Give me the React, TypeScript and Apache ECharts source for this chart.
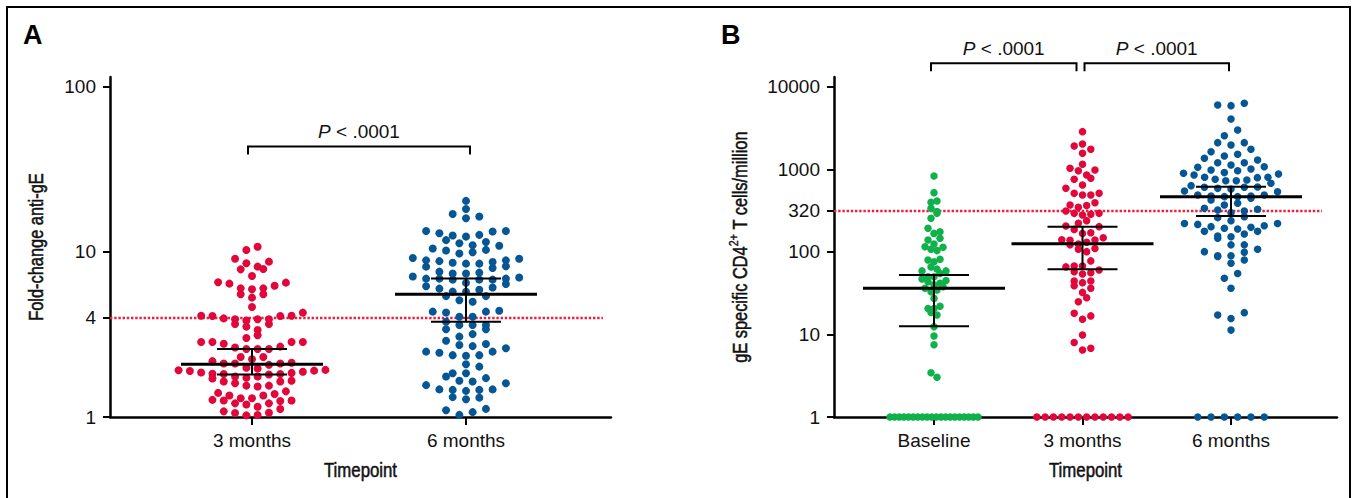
import React, { useEffect, useRef } from "react";
import * as echarts from "echarts";

// ---------- data ----------
const categoriesA = ["3 months", "6 months"];
const categoriesB = ["Baseline", "3 months", "6 months"];
const yTickLabelsA = [1, 4, 10, 100];
const yTickLabelsB = [1, 10, 100, 320, 1000, 10000];
const thresholdA = 4;
const thresholdB = 320;
const pLabel = "< .0001";

const foldChange3m = [
  10.77, 10.28, 9.11, 8.74, 8.54, 8.15, 7.89, 7.85, 7.15, 6.55, 6.52, 6.43, 6.25, 6.02, 6.02, 5.94, 5.54, 5.54, 5.29, 4.64,
  4.29, 4.11, 4.11, 4.09, 4.09, 3.96, 3.91, 3.91, 3.91, 3.84,
  3.66, 3.66, 3.53, 3.37, 3.13, 3.01, 2.85, 2.85, 2.85, 2.85, 2.78,
  2.67, 2.64, 2.58, 2.58, 2.58, 2.31, 2.31, 2.24, 2.18,
  2.13, 2.11, 2.11, 2.11, 2.07, 1.99, 1.97, 1.93, 1.92, 1.91, 1.9, 1.88, 1.86, 1.85, 1.83, 1.82, 1.82, 1.81, 1.76,
  1.76, 1.73, 1.71, 1.66, 1.64, 1.64, 1.6, 1.55, 1.55, 1.53,
  1.43, 1.4, 1.38, 1.35, 1.35, 1.3, 1.3, 1.27, 1.26,
  1.26, 1.25, 1.21, 1.21, 1.19, 1.155, 1.118, 1.082, 1.062, 1.057, 1.028, 1.023,
];

const foldChange6m = [
  20.4, 18.2, 17.0, 16.4, 16.0,
  13.4, 13.4, 13.3, 13.0, 12.7, 12.6, 12.4,
  11.8, 11.5, 11.3, 11.0, 10.9,
  10.5, 10.3, 10.2, 9.96, 9.8,
  9.2, 9.1, 8.9, 8.9, 8.8, 8.7, 8.6, 8.5, 8.5, 8.2, 8.15, 8.0,
  7.6, 7.5, 7.4, 7.4, 7.1, 7.0, 6.9, 6.9, 6.9, 6.8, 6.8, 6.8, 6.5, 6.4, 6.2, 6.1,
  6.0, 5.9, 5.75, 5.75, 5.4, 5.4, 5.1, 5.0,
  4.4, 4.35, 4.35, 4.3, 4.05, 4.05, 3.78,
  3.61, 3.61, 3.61, 3.4, 3.4, 3.18,
  3.07, 2.9, 2.77, 2.73, 2.69, 2.61, 2.49, 2.49, 2.45, 2.37, 2.37, 2.35,
  2.09, 2.02, 1.84, 1.84, 1.76, 1.72, 1.66, 1.64, 1.6, 1.56, 1.47, 1.47, 1.46, 1.46, 1.44, 1.32, 1.31, 1.28,
  1.12, 1.1, 1.07, 1.03,
];

const cellsBaseline = [
  834, 524, 415, 400, 338, 310, 294, 256, 194, 176, 168, 147, 140, 125, 116, 114, 108, 104,
  81.5, 80, 76, 66, 62, 59, 59, 55, 50, 50, 47, 45, 43.7, 41.7, 40, 38, 36.3, 34.6, 33,
  27.4, 22, 20.7, 20.7, 18.5, 17.2, 12.4, 9.6, 7.5, 3.44, 3.03,
  1, 1, 1, 1, 1, 1, 1, 1, 1, 1, 1, 1, 1, 1, 1, 1, 1, 1, 1, 1,
];

const cells3m = [
  2875, 2040, 1930, 1756, 1570,
  1156, 1033, 986, 968,
  858, 782, 761, 649,
  592, 514, 514, 491, 491,
  396, 371, 365, 348, 314, 294, 294, 286, 281,
  240, 223, 207, 203,
  188, 171, 168, 149, 141, 140, 139, 131, 125, 122, 110, 108, 101,
  78, 67.7, 67.7, 66, 60.5, 57.8, 56, 54,
  44.5, 44.5, 42.5, 39, 36.3,
  32.4, 27.9, 25,
  18.1, 16.8, 15.3,
  9.86, 8.0, 6.8, 6.5,
  1, 1, 1, 1, 1, 1, 1, 1, 1, 1, 1, 1,
];

const cells6m = [
  6340, 6050, 5940, 4090, 3010, 2570, 2115, 2115, 1980, 1757, 1644, 1528, 1458, 1366,
  1304, 1210, 1210, 1134, 1082, 1062, 1014, 986,
  968, 917, 900, 881, 858, 804, 804, 797, 761, 746, 731, 731, 680, 637, 614, 608, 608, 591, 580, 549,
  538, 491, 491, 477, 477, 469, 469, 448, 427, 389, 371, 338, 329, 323, 314, 300, 268, 261,
  240, 222, 222, 216, 208, 203, 199, 194, 190, 178, 178,
  165, 156, 153, 147, 122, 122, 108, 101, 99, 90, 90, 88, 80, 73, 55, 48, 36.3, 18.4, 17.2, 15.6, 11.3,
  1, 1, 1, 1, 1, 1,
];

// [centre line, lower bar, upper bar]
const summaryA = [
  [2.085, 1.81, 2.58],
  [5.54, 3.78, 6.9],
];
const summaryB = [
  [36.3, 12.6, 52.6],
  [126, 61.7, 203],
  [469, 273, 619],
];

const comparisonsA = [[0, 1]];
const comparisonsB = [
  [0, 1],
  [1, 2],
];

// ---------- layout / style ----------
const FONT = "'Liberation Sans', Arial, Helvetica, sans-serif";
const RED = "#e2063a";
const BLUE = "#045694";
const GREEN = "#10b14b";
const LINE_RED = "#e8203e";
const TEXT = "#111";

const gridA = { left: 110, top: 77, width: 501, height: 340 };
const gridB = { left: 834, top: 77, width: 503, height: 340 };
const xExtA = [-0.6636, 1.6776];
const xExtB = [-0.6734, 2.7138];
const yMaxA = 2.0606; // in log10 units
const yMaxB = 4.1212;
const lineEndA = 1.64; // where the dotted threshold line stops (x-axis units)
const lineEndB = 2.613;

const bracketInsetA = [[-4, -4]];
const bracketInsetB = [
  [-3, 6],
  [2, 2],
];

// Prism-like row swarm: returns horizontal pixel offsets
function swarm(values: number[], pxPerDecade: number, step: number, rowH: number, maxW: number): number[] {
  const n = values.length;
  const ys = values.map((v) => Math.log10(v) * pxPerDecade);
  const order = ys.map((_, i) => i).sort((a, b) => ys[a] - ys[b]);
  const dx = new Array(n).fill(0);
  let i = 0;
  let rowNo = 0;
  while (i < n) {
    const start = ys[order[i]];
    const row: number[] = [];
    while (i < n && ys[order[i]] - start < rowH) {
      row.push(order[i]);
      i++;
    }
    const m = row.length;
    const s = m > 1 ? Math.min(step, maxW / (m - 1)) : 0;
    const slots: number[] = [];
    for (let k = 0; k < m; k++) slots.push((k - (m - 1) / 2) * s);
    const slotOrder = slots
      .map((_, k) => k)
      .sort((a, b) => Math.abs(slots[a]) - Math.abs(slots[b]) || (rowNo % 2 ? b - a : a - b));
    row.forEach((idx, r) => {
      dx[idx] = slots[slotOrder[r]];
    });
    rowNo++;
  }
  return dx;
}

function dotSeries(
  values: number[],
  cat: number,
  axis: number,
  grid: any,
  xExt: number[],
  yMax: number,
  color: string,
  size: number,
  step: number,
  rowH: number,
  maxW: number,
  extra: any = {}
) {
  const pxPerDec = grid.height / yMax;
  const pxPerX = grid.width / (xExt[1] - xExt[0]);
  const dx = swarm(values, pxPerDec, step, rowH, maxW);
  return {
    type: "scatter",
    xAxisIndex: axis,
    yAxisIndex: axis,
    symbol: "circle",
    symbolSize: size,
    itemStyle: { color, opacity: 1 },
    z: 2,
    silent: true,
    clip: false,
    data: values.map((v, i) => [cat + dx[i] / pxPerX, Math.log10(v)]),
    ...extra,
  };
}

function thresholdLine(value: number, xStart: number, xEnd: number) {
  const y = Math.log10(value);
  return {
    silent: true,
    z: 1,
    symbol: ["none", "none"],
    label: { show: false },
    lineStyle: { color: LINE_RED, type: [2.4, 1.8], width: 2.4, cap: "butt" },
    data: [[{ coord: [xStart, y] }, { coord: [xEnd, y] }]],
  };
}

function summarySeries(stats: number[][], axis: number) {
  return {
    type: "custom",
    xAxisIndex: axis,
    yAxisIndex: axis,
    z: 4,
    silent: true,
    clip: false,
    data: stats.map((s, i) => [i, Math.log10(s[0]), Math.log10(s[1]), Math.log10(s[2])]),
    encode: { x: 0, y: 1 },
    renderItem: (params: any, api: any) => {
      const c = api.value(0);
      const m = api.coord([c, api.value(1)]);
      const lo = api.coord([c, api.value(2)]);
      const hi = api.coord([c, api.value(3)]);
      const ln = (x1: number, y1: number, x2: number, y2: number, w: number) => ({
        type: "line",
        shape: { x1, y1, x2, y2 },
        style: { stroke: "#000", lineWidth: w },
      });
      return {
        type: "group",
        children: [
          ln(lo[0], lo[1], hi[0], hi[1], 2),
          ln(lo[0] - 35, lo[1], lo[0] + 35, lo[1], 2),
          ln(hi[0] - 35, hi[1], hi[0] + 35, hi[1], 2),
          ln(m[0] - 71, m[1], m[0] + 71, m[1], 3),
        ],
      };
    },
  };
}

function bracketSeries(pairs: number[][], axis: number, offsetY: number, insets: number[][]) {
  return {
    type: "custom",
    xAxisIndex: axis,
    yAxisIndex: axis,
    z: 4,
    silent: true,
    clip: false,
    data: pairs.map((p) => [p[0], p[1]]),
    encode: { x: [0, 1] },
    renderItem: (params: any, api: any) => {
      const ins = insets[params.dataIndex] || [0, 0];
      const x1 = api.coord([api.value(0), 0])[0] + ins[0];
      const x2 = api.coord([api.value(1), 0])[0] - ins[1];
      const y = params.coordSys.y + offsetY;
      return {
        type: "group",
        children: [
          {
            type: "polyline",
            shape: { points: [[x1, y + 8], [x1, y], [x2, y], [x2, y + 8]] },
            style: { stroke: "#000", lineWidth: 2, fill: "none" },
          },
          {
            type: "text",
            style: {
              x: (x1 + x2) / 2,
              y: y - 15,
              text: "{i|P} " + pLabel,
              align: "center",
              verticalAlign: "middle",
              fontSize: 19,
              fontFamily: FONT,
              fill: TEXT,
              rich: {
                i: { fontStyle: "italic", fontSize: 19, fontFamily: FONT, fill: TEXT },
              },
            },
          },
        ],
      };
    },
  };
}

function yAxisDef(gridIndex: number, yMax: number, ticks: number[]) {
  const vals = ticks.map((t) => Math.log10(t));
  return {
    gridIndex,
    type: "value",
    min: 0,
    max: yMax,
    axisLine: { show: true, onZero: false, lineStyle: { color: "#000", width: 2.5 } },
    axisTick: { show: true, customValues: vals, length: 7, lineStyle: { color: "#000", width: 2 } },
    axisLabel: {
      show: true,
      customValues: vals,
      margin: 14,
      fontSize: 19,
      fontFamily: FONT,
      color: TEXT,
      formatter: (v: number) => {
        const t = ticks.find((tt) => Math.abs(Math.log10(tt) - v) < 1e-6);
        return t === undefined ? "" : String(t);
      },
    },
    splitLine: { show: false },
  };
}

function xAxisDef(gridIndex: number, ext: number[], cats: string[]) {
  const vals = cats.map((_, i) => i);
  return {
    gridIndex,
    type: "value",
    min: ext[0],
    max: ext[1],
    axisLine: { show: true, onZero: false, lineStyle: { color: "#000", width: 2.5 } },
    axisTick: { show: true, customValues: vals, length: 8, lineStyle: { color: "#000", width: 2 } },
    axisLabel: {
      show: true,
      customValues: vals,
      margin: 14,
      fontSize: 19,
      fontFamily: FONT,
      color: TEXT,
      formatter: (v: number) => cats[Math.round(v)] ?? "",
    },
    splitLine: { show: false },
  };
}

const condensed = { fontFamily: FONT, fill: TEXT, stroke: TEXT, lineWidth: 0.55 };

export default function App() {
  const ref = useRef<HTMLDivElement>(null);

  useEffect(() => {
    if (!ref.current) return;
    const chart = echarts.init(ref.current, undefined, { renderer: "svg" });

    const option: any = {
      animation: false,
      backgroundColor: "#fff",
      grid: [
        { ...gridA, containLabel: false },
        { ...gridB, containLabel: false },
      ],
      xAxis: [xAxisDef(0, xExtA, categoriesA), xAxisDef(1, xExtB, categoriesB)],
      yAxis: [yAxisDef(0, yMaxA, yTickLabelsA), yAxisDef(1, yMaxB, yTickLabelsB)],
      series: [
        dotSeries(foldChange3m, 0, 0, gridA, xExtA, yMaxA, RED, 8, 11.3, 8, 150, {
          markLine: thresholdLine(thresholdA, xExtA[0], lineEndA),
        }),
        dotSeries(foldChange6m, 1, 0, gridA, xExtA, yMaxA, BLUE, 8, 13.3, 8, 150),
        dotSeries(cellsBaseline, 0, 1, gridB, xExtB, yMaxB, GREEN, 7.5, 6, 6, 88, {
          markLine: thresholdLine(thresholdB, xExtB[0], lineEndB),
        }),
        dotSeries(cells3m, 1, 1, gridB, xExtB, yMaxB, RED, 7.5, 8.3, 7.5, 95),
        dotSeries(cells6m, 2, 1, gridB, xExtB, yMaxB, BLUE, 7.5, 13.3, 7.5, 95),
        summarySeries(summaryA, 0),
        summarySeries(summaryB, 1),
        bracketSeries(comparisonsA, 0, 69.5, bracketInsetA),
        bracketSeries(comparisonsB, 1, -13.7, bracketInsetB),
      ],
      graphic: [
        {
          type: "rect",
          silent: true,
          z: -1,
          shape: { x: 7, y: 7, width: 1343, height: 560 },
          style: { fill: "none", stroke: "#000", lineWidth: 2 },
        },
        {
          type: "text",
          x: 23,
          y: 35,
          style: { text: "A", fontSize: 27, fontWeight: "bold", fontFamily: FONT, fill: "#000", align: "left", verticalAlign: "middle" },
        },
        {
          type: "text",
          x: 721,
          y: 35,
          style: { text: "B", fontSize: 27, fontWeight: "bold", fontFamily: FONT, fill: "#000", align: "left", verticalAlign: "middle" },
        },
        {
          type: "text",
          x: 36,
          y: 247,
          rotation: Math.PI / 2,
          scaleX: 0.82,
          style: { text: "Fold-change anti-gE", fontSize: 20, ...condensed, align: "center", verticalAlign: "middle" },
        },
        {
          type: "text",
          x: 740,
          y: 247,
          rotation: Math.PI / 2,
          scaleX: 0.82,
          style: {
            text: "{n|gE specific CD4}{s|2+}{n| T cells/million}",
            align: "center",
            verticalAlign: "middle",
            fontSize: 20,
            ...condensed,
            rich: {
              n: { fontSize: 20, ...condensed },
              s: { fontSize: 13, ...condensed, lineWidth: 0.4, padding: [0, 0, 12, 0] },
            },
          },
        },
        {
          type: "text",
          x: 360.5,
          y: 470,
          scaleX: 0.8,
          style: { text: "Timepoint", fontSize: 21, ...condensed, align: "center", verticalAlign: "middle" },
        },
        {
          type: "text",
          x: 1085.5,
          y: 470,
          scaleX: 0.8,
          style: { text: "Timepoint", fontSize: 21, ...condensed, align: "center", verticalAlign: "middle" },
        },
      ],
    };

    chart.setOption(option);
    return () => chart.dispose();
  }, []);

  return (
    <div
      ref={ref}
      style={{ position: "absolute", left: 0, top: 0, width: 1356, height: 498, background: "#fff" }}
    />
  );
}
